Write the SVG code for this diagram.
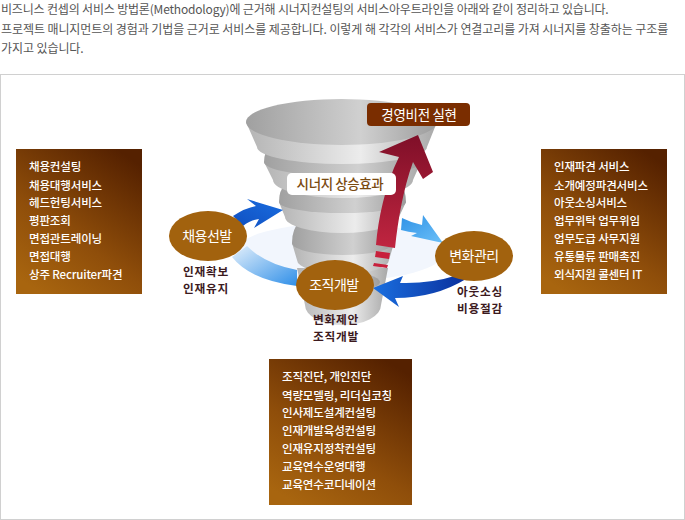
<svg xmlns="http://www.w3.org/2000/svg" width="685" height="520" viewBox="0 0 685 520">
<style>
text{font-family:"Noto Sans CJK KR","Liberation Sans",sans-serif}
.intro{font-size:12px;fill:#555}
.list{font-size:11.5px;fill:#fff;font-weight:500;letter-spacing:-.15px}
.oval{font-size:14px;fill:#fff;text-anchor:middle;letter-spacing:-.5px}
.sub{font-size:11.7px;fill:#3c1a1e;text-anchor:middle;font-weight:700;letter-spacing:.8px}
.body{fill:url(#gBody)}
.top{fill:url(#gTop)}
.node{fill:#a2620e}
</style>
<defs>
<linearGradient id="gBox" x1=".8" y1="0" x2=".2" y2="1"><stop offset="0" stop-color="#552100"/><stop offset=".6" stop-color="#8f4e0a"/><stop offset="1" stop-color="#a8650f"/></linearGradient>
<linearGradient id="gBody" x1="0" x2="1" y1="0" y2="0"><stop offset="0" stop-color="#b4b4b4"/><stop offset=".6" stop-color="#ececec"/><stop offset="1" stop-color="#a8a8a8"/></linearGradient>
<linearGradient id="gTop" x1="0" x2="1" y1="0" y2="0"><stop offset="0" stop-color="#a0a0a0"/><stop offset=".6" stop-color="#d0d0d0"/><stop offset="1" stop-color="#9c9c9c"/></linearGradient>
<linearGradient id="gRed" x1="0" x2="0" y1="0" y2="1"><stop offset="0" stop-color="#7f0f28"/><stop offset="1" stop-color="#c02540"/></linearGradient>
<linearGradient id="gB1" x1="0" x2="1" y1="1" y2="0"><stop offset="0" stop-color="#0f4fc0"/><stop offset="1" stop-color="#1a6de0"/></linearGradient>
<linearGradient id="gB2" x1="0" x2="1" y1="0" y2="1"><stop offset="0" stop-color="#e4f0fb"/><stop offset="1" stop-color="#2f8fe8"/></linearGradient>
<linearGradient id="gB3" x1="0" x2="1" y1="0" y2="1"><stop offset="0" stop-color="#2f92e6"/><stop offset="1" stop-color="#6cc0f8"/></linearGradient>
<linearGradient id="gB4" x1="1" x2="0" y1="0" y2="0"><stop offset="0" stop-color="#0a2f9c"/><stop offset="1" stop-color="#1a6fe0"/></linearGradient>
</defs>
<rect width="685" height="520" fill="#fff"/>
<g id="intro">
<text class="intro" x="1" y="14" letter-spacing="-.18">비즈니스 컨셉의 서비스 방법론(Methodology)에 근거해 시너지컨설팅의 서비스아우트라인을 아래와 같이 정리하고 있습니다.</text>
<text class="intro" x="1" y="34" letter-spacing="-.08">프로젝트 매니지먼트의 경험과 기법을 근거로 서비스를 제공합니다. 이렇게 해 각각의 서비스가 연결고리를 가져 시너지를 창출하는 구조를</text>
<text class="intro" x="1" y="53" letter-spacing="-.08">가지고 있습니다.</text>
</g>
<rect x=".5" y="74.5" width="684" height="445" fill="#fff" stroke="#d0d0d0"/>
<ellipse cx="340" cy="252" rx="105" ry="29" fill="#f2f6fd"/>
<g id="funnel">
<path class="body" d="M297 268L305 305A38 20 0 0 0 381 305L388 268Z"/>
<ellipse class="top" cx="342" cy="282" rx="38" ry="10"/>
<path class="body" d="M292 243L297 260A46 14 0 0 0 389 260L394 243Z"/>
<path class="top" d="M292 243Q292 228 300 222L386 222Q394 228 394 243A51 12 0 0 1 292 243Z"/>
<path class="body" d="M279 202L285 217A57 16 0 0 0 399 217L406 202Z"/>
<path class="top" d="M279 202Q279 190 285 185L400 185Q406 190 406 202A63 11 0 0 1 279 202Z"/>
<path class="body" d="M264 162L273 180A70 18 0 0 0 413 180L421 162Z"/>
<path class="top" d="M264 162Q264 152 270 146L416 146Q421 152 421 162A78 14 0 0 1 264 162Z"/>
<path class="body" d="M246 122L257 147A85 17 0 0 0 427 147L437 122Z"/>
<ellipse class="top" cx="341.500" cy="122" rx="95.500" ry="23"/>
</g>
<g id="connectors">
<path fill="url(#gB1)" d="M233 216Q245 208 256 206L247 199L283 210L254 228L259 219Q250 220 243 226Z"/>
<path fill="url(#gB2)" d="M247 246Q265 264 297 270L297 286Q250 280 232 257Z"/>
<path fill="url(#gB3)" d="M402 218Q412 223 422 225L423 215L443 243L411 236L417 233Q408 232 401 230Z"/>
<path fill="url(#gB4)" d="M373 288L403 276L400 283Q430 284 458 275L466 279Q435 298 395 298L399 307Z"/>
</g>
<g id="arrow-up">
<path fill="url(#gRed)" d="M418 135L379 152L399 157C385 185 378 220 376 245L395 248C398 220 403 190 413 162L423 179L433 172Z"/>
<path fill="#c8203c" d="M376 251L390 253L389 259L375 257Z"/>
<path fill="#c8203c" d="M374 263L388 265L387 268L373 266Z"/>
</g>
<g id="vision"><rect x="367" y="103" width="103" height="23" rx="4" fill="#7a2d00"/><text x="419" y="119.500" font-size="13.500" fill="#fff" text-anchor="middle" letter-spacing="-.3">경영비전 실현</text></g>
<g id="synergy"><rect x="287" y="173" width="109" height="22" rx="5" fill="#fff"/><text x="340" y="189" font-size="13.500" font-weight="500" fill="#7a4a10" text-anchor="middle" letter-spacing="-.4">시너지 상승효과</text></g>
<g id="node-hire"><ellipse class="node" cx="208" cy="236" rx="39" ry="25"/><text class="oval" x="207" y="241">채용선발</text><text class="sub" x="206" y="275.500">인재확보</text><text class="sub" x="206" y="292.500">인재유지</text></g>
<g id="node-change"><ellipse class="node" cx="474" cy="256" rx="39" ry="25"/><text class="oval" x="474" y="261">변화관리</text><text class="sub" x="480" y="295.500">아웃소싱</text><text class="sub" x="480" y="312.500">비용절감</text></g>
<g id="node-org"><ellipse class="node" cx="335" cy="285" rx="39" ry="25"/><text class="oval" x="334" y="290">조직개발</text><text class="sub" x="336" y="323.500">변화제안</text><text class="sub" x="336" y="340.500">조직개발</text></g>
<g id="box-left"><rect x="16" y="149" width="126" height="145" fill="url(#gBox)"/>
<text class="list" x="29" y="171">채용컨설팅</text><text class="list" x="29" y="190">채용대행서비스</text><text class="list" x="29" y="207">헤드헌팅서비스</text><text class="list" x="29" y="225">평판조회</text><text class="list" x="29" y="243">면접관트레이닝</text><text class="list" x="29" y="261">면접대행</text><text class="list" x="29" y="279">상주 Recruiter파견</text></g>
<g id="box-right"><rect x="541" y="149" width="126" height="145" fill="url(#gBox)"/>
<text class="list" x="554" y="171">인재파견 서비스</text><text class="list" x="554" y="190">소개예정파견서비스</text><text class="list" x="554" y="207">아웃소싱서비스</text><text class="list" x="554" y="225">업무위탁 업무위임</text><text class="list" x="554" y="243">업무도급 사무지원</text><text class="list" x="554" y="261">유통물류 판매촉진</text><text class="list" x="554" y="279">외식지원 콜센터 IT</text></g>
<g id="box-bottom"><rect x="269" y="359" width="143" height="146" fill="url(#gBox)"/>
<text class="list" x="282" y="381">조직진단, 개인진단</text><text class="list" x="282" y="400">역량모델링, 리더십코칭</text><text class="list" x="282" y="417">인사제도설계컨설팅</text><text class="list" x="282" y="435">인재개발육성컨설팅</text><text class="list" x="282" y="453">인재유지정착컨설팅</text><text class="list" x="282" y="471">교육연수운영대행</text><text class="list" x="282" y="489">교육연수코디네이션</text></g>
</svg>
